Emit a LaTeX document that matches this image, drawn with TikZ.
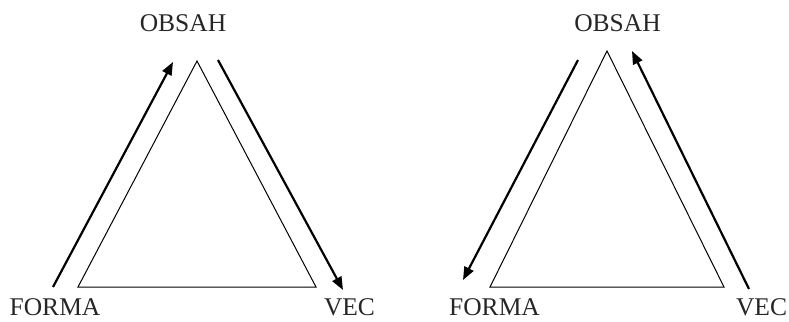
\documentclass[tikz,border=0pt]{standalone}
\usepackage{fontspec}
\setmainfont{Liberation Serif}
\usetikzlibrary{arrows.meta,positioning}

\begin{document}
\begin{tikzpicture}[x=1pt,y=-1pt,
  lbl/.style={anchor=base,inner sep=0pt,text=black!85,
              font=\fontsize{25.5}{30}\selectfont},
  tri/.style={draw,line width=1pt,line join=miter},
  arr/.style={-{Triangle[length=13pt,width=10pt]},line width=2.2pt}]
  \useasboundingbox (0,0) rectangle (789,321);
  % left triangle: forma -> obsah -> vec
  \node[lbl] (obsahL) at (183,32) {OBSAH};
  \node[lbl] (formaL) at (55,315) {FORMA};
  \node[lbl] (vecL) at (349.5,315) {VEC};
  \coordinate (topL) at (197,61);
  \coordinate (leftL) at (78,287);
  \coordinate (rightL) at (316,287);
  \draw[tri] (topL) -- (leftL) -- (rightL) -- cycle;
  \coordinate (upL1) at (53,287);
  \coordinate (upL2) at (173,62);
  \coordinate (dnL1) at (218,60);
  \coordinate (dnL2) at (343,290);
  \draw[arr] (upL1) -- (upL2);
  \draw[arr] (dnL1) -- (dnL2);
  % right triangle: vec -> obsah -> forma
  \node[lbl] (obsahR) at (617.5,32) {OBSAH};
  \node[lbl] (formaR) at (494.5,315) {FORMA};
  \node[lbl] (vecR) at (761.5,315) {VEC};
  \coordinate (topR) at (607,51);
  \coordinate (leftR) at (490,287);
  \coordinate (rightR) at (724,287);
  \draw[tri] (topR) -- (leftR) -- (rightR) -- cycle;
  \coordinate (dnR1) at (578,60);
  \coordinate (dnR2) at (463,280);
  \coordinate (upR1) at (749,289);
  \coordinate (upR2) at (632,51);
  \draw[arr] (dnR1) -- (dnR2);
  \draw[arr] (upR1) -- (upR2);
\end{tikzpicture}
\end{document}
